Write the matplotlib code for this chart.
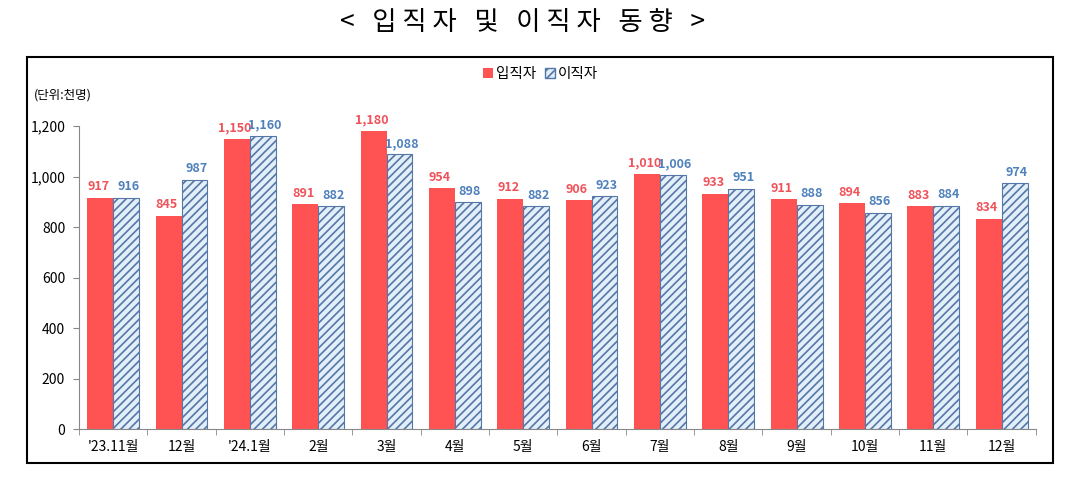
import numpy as np
import matplotlib.pyplot as plt
from matplotlib.patches import Rectangle, Patch

plt.rcParams['font.family'] = ['Noto Sans CJK KR', 'DejaVu Sans']
plt.rcParams['hatch.linewidth'] = 1.2

# data (thousand persons)
months = ["'23.11월", '12월', "'24.1월", '2월', '3월', '4월', '5월',
          '6월', '7월', '8월', '9월', '10월', '11월', '12월']
hires = [917, 845, 1150, 891, 1180, 954, 912, 906, 1010, 933, 911, 894, 883, 834]
separations = [916, 987, 1160, 882, 1088, 898, 882, 923, 1006, 951, 888, 856, 884, 974]

red = '#FF5353'
red_txt = '#F0525A'
blue_txt = '#4F81BD'
hatch_col = '#5577A8'
blue_fill = '#E2EEF8'

fig = plt.figure(figsize=(10.81, 4.83), dpi=100)

# outer frame of the chart
fig.patches.append(Rectangle((0.025, 0.041), 0.949, 0.841, transform=fig.transFigure,
                             fill=False, edgecolor='black', linewidth=1.5))

fig.text(0.483, 0.953, '<   입 직 자   및   이 직 자   동 향   >', ha='center', va='center',
         fontsize=19, fontweight='medium')

ax = fig.add_axes([0.0731, 0.1118, 0.885, 0.627])
x = np.arange(len(months))
w = 0.38
ax.bar(x - w / 2, hires, w, color=red, edgecolor='none', zorder=2)
ax.bar(x + w / 2, separations, w, color=blue_fill, edgecolor=hatch_col,
       hatch='////', linewidth=0.8, zorder=2)

for xi, v in zip(x, hires):
    ax.text(xi - w / 2 - 0.03, v + 18, f'{v:,}', ha='center', va='bottom', color=red_txt,
            fontsize=9, fontweight='bold', clip_on=False)
for xi, v in zip(x, separations):
    ax.text(xi + w / 2 + 0.03, v + 18, f'{v:,}', ha='center', va='bottom', color=blue_txt,
            fontsize=9, fontweight='bold', clip_on=False)

ax.set_xlim(-0.5, len(months) - 0.5)
ax.set_ylim(0, 1200)
ax.set_yticks(range(0, 1201, 200))
ax.set_yticklabels([f'{v:,}' for v in range(0, 1201, 200)], fontsize=10)
ax.set_xticks(x)
ax.set_xticklabels(months, fontsize=10)
ax.set_xticks(np.arange(-0.5, len(months), 1), minor=True)
ax.tick_params(axis='x', which='major', length=0, pad=8)
ax.tick_params(axis='x', which='minor', length=4, color='#888888')
ax.tick_params(axis='y', length=4, color='#888888', pad=6)
for s in ['top', 'right']:
    ax.spines[s].set_visible(False)
ax.spines['left'].set_color('#888888')
ax.spines['bottom'].set_color('#888888')

fig.text(0.031, 0.804, '(단위:천명)', ha='left', va='center', fontsize=9)

handles = [Patch(facecolor=red, edgecolor='none', label='입직자'),
           Patch(facecolor=blue_fill, edgecolor=hatch_col, hatch='////', label='이직자')]
fig.legend(handles=handles, loc='center', bbox_to_anchor=(0.5, 0.847), ncol=2, frameon=False,
           fontsize=10.5, handlelength=0.7, handleheight=0.7, handletextpad=0.2, columnspacing=0.6)

fig.savefig('out.png', dpi=100)
